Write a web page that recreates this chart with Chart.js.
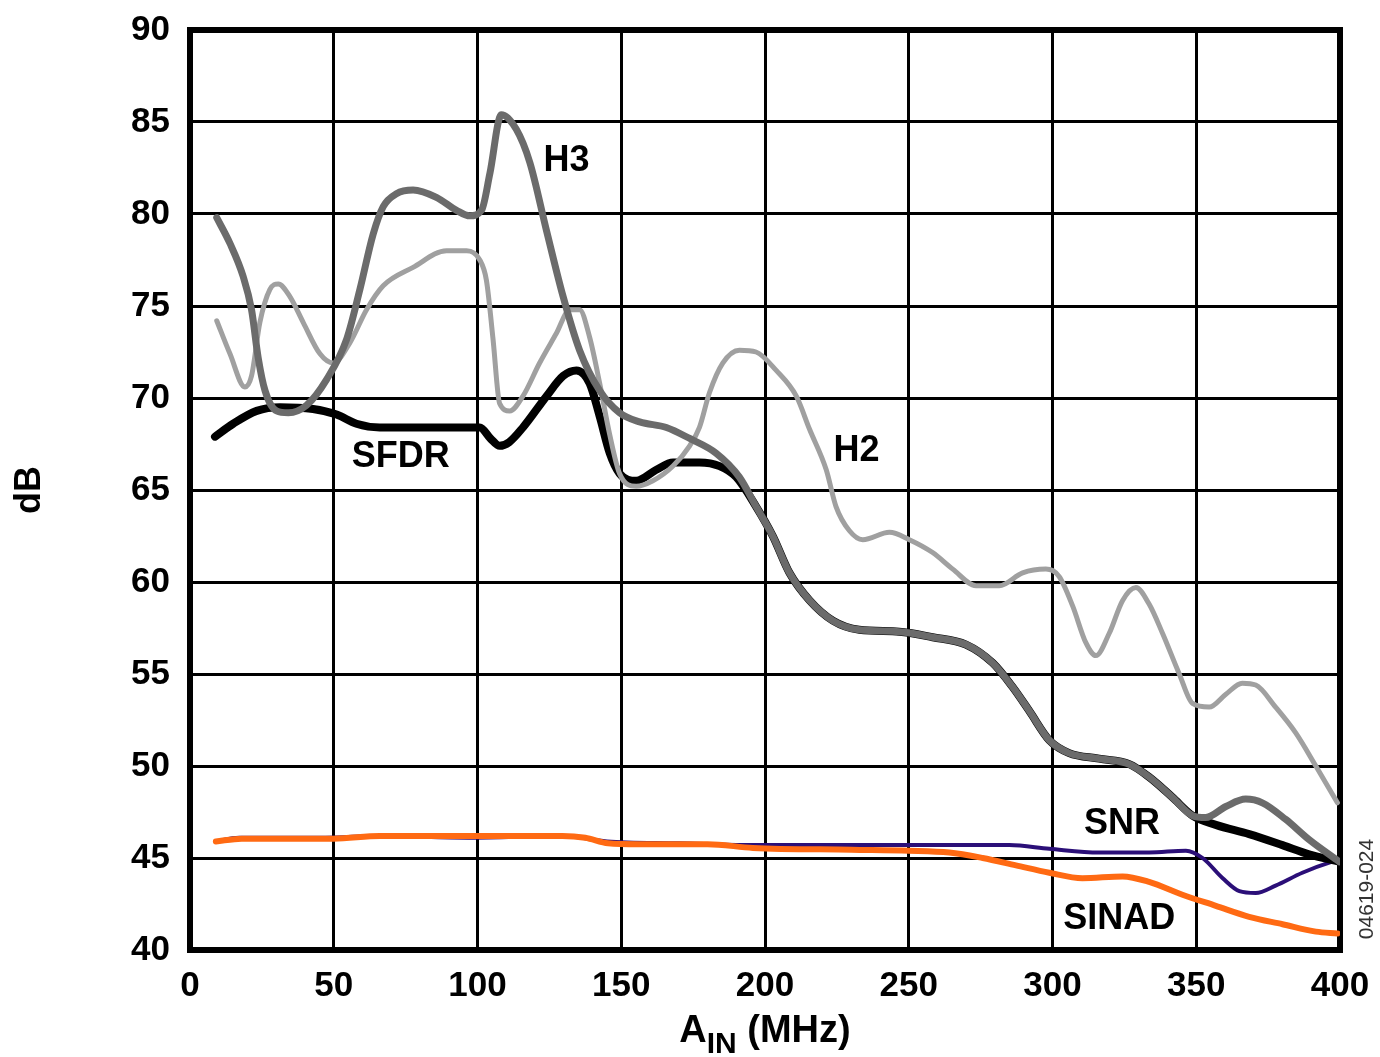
<!DOCTYPE html>
<html>
<head>
<meta charset="utf-8">
<script src="https://cdn.jsdelivr.net/npm/chart.js@4.4.1/dist/chart.umd.min.js"></script>
<style>
  html, body { margin: 0; padding: 0; background: #fff; }
  #wrap { width: 1380px; height: 1057px; position: relative; }
</style>
</head>
<body>
<div id="wrap"><canvas id="c" width="1380" height="1057"></canvas></div>
<script>
// ---- Data (A_IN in MHz, values in dB) ----
const xTicks = [0, 50, 100, 150, 200, 250, 300, 350, 400];
const yTicks = [40, 45, 50, 55, 60, 65, 70, 75, 80, 85, 90];

const h3Freq = [9.3, 13.9, 18.5, 21.4, 23.7, 26.1, 30.1, 34.2, 40.5, 47.5, 54.5, 59.1, 63.7, 67.2, 71.8, 77.6, 85.7, 92.7, 97.3, 101.4, 104.3, 108.3, 113.5, 118.2, 124.0, 129.8, 135.5, 142.5, 149.4, 156.4, 165.7, 173.8, 183.0, 191.1, 196.9, 202.7, 208.5, 215.5, 223.6, 232.8, 246.7, 258.3, 269.9, 279.2, 286.1, 291.9, 298.9, 305.8, 316.2, 326.7, 333.6, 341.7, 348.7, 353.3, 360.3, 367.2, 373.0, 381.1, 389.2, 399.7];
const h3dB   = [79.8, 78.4, 76.6, 74.8, 72.2, 70.4, 69.3, 69.2, 69.6, 71.0, 73.2, 75.9, 78.9, 80.4, 81.1, 81.3, 80.9, 80.2, 79.9, 80.2, 82.2, 85.4, 84.6, 82.8, 79.1, 75.5, 72.6, 70.4, 69.2, 68.7, 68.4, 67.8, 67.0, 65.7, 64.1, 62.5, 60.5, 59.0, 57.9, 57.4, 57.3, 57.0, 56.6, 55.6, 54.3, 53.0, 51.4, 50.7, 50.4, 50.1, 49.4, 48.3, 47.3, 47.2, 47.8, 48.2, 48.0, 47.1, 46.0, 44.8];

const h2Freq = [9.3, 13.9, 19.1, 21.4, 24.3, 27.8, 30.7, 34.8, 39.4, 45.2, 49.8, 55.6, 61.4, 67.2, 77.6, 89.2, 96.2, 100.8, 103.1, 105.4, 107.7, 111.2, 115.8, 121.6, 127.4, 132.1, 135.5, 139.0, 142.5, 146.0, 149.4, 155.2, 161.0, 168.0, 173.8, 177.2, 180.7, 185.3, 191.1, 196.9, 203.9, 210.9, 215.5, 221.3, 224.7, 229.3, 234.0, 243.3, 250.2, 258.3, 265.3, 273.4, 281.5, 289.6, 297.7, 302.3, 307.0, 311.6, 315.1, 319.7, 324.4, 329.0, 333.6, 338.3, 344.1, 348.7, 354.5, 360.3, 366.0, 370.7, 377.6, 384.6, 391.6, 399.1];
const h2dB   = [74.2, 72.4, 70.6, 71.2, 74.1, 75.9, 76.2, 75.5, 74.1, 72.4, 71.9, 73.0, 74.8, 76.1, 77.1, 78.0, 78.0, 77.5, 76.4, 73.2, 69.7, 69.3, 70.1, 71.9, 73.5, 74.8, 74.8, 73.3, 70.8, 68.0, 65.9, 65.2, 65.5, 66.3, 67.4, 68.4, 70.3, 71.9, 72.6, 72.5, 71.5, 70.1, 68.3, 66.1, 64.1, 62.8, 62.3, 62.7, 62.3, 61.6, 60.7, 59.8, 59.8, 60.5, 60.7, 60.3, 58.7, 56.7, 56.0, 57.2, 59.0, 59.7, 58.8, 57.2, 55.0, 53.4, 53.2, 53.9, 54.5, 54.4, 53.2, 51.8, 50.0, 48.0];

const sfdrFreq = [8.7, 15.0, 23.2, 31.3, 42.8, 51.0, 57.9, 66.0, 77.6, 89.2, 100.8, 104.5, 107.7, 111.0, 115.8, 124.0, 129.8, 134.4, 139.0, 142.5, 146.0, 149.4, 155.2, 162.2, 168.0, 177.2, 184.2, 190.0, 196.9, 202.7, 208.5, 215.5, 223.6, 232.8, 246.7, 258.3, 269.9, 279.2, 286.1, 291.9, 298.9, 305.8, 316.2, 326.7, 333.6, 341.7, 348.7, 356.8, 368.4, 380.0, 389.2, 399.7];
const sfdrdB   = [67.9, 68.6, 69.3, 69.5, 69.4, 69.1, 68.6, 68.4, 68.4, 68.4, 68.4, 67.8, 67.4, 67.6, 68.4, 70.1, 71.2, 71.5, 70.8, 69.0, 67.0, 65.9, 65.5, 66.1, 66.5, 66.5, 66.3, 65.7, 64.1, 62.5, 60.5, 59.0, 57.9, 57.4, 57.3, 57.0, 56.6, 55.6, 54.3, 53.0, 51.4, 50.7, 50.4, 50.1, 49.4, 48.3, 47.3, 46.8, 46.3, 45.7, 45.2, 44.8];

const snrFreq = [9, 17, 47, 66, 97, 130, 145, 170, 195, 230, 264, 285, 298.9, 316.2, 333.6, 346.4, 352.2, 359.2, 365.0, 370.7, 377.6, 386.9, 397.3, 399.7];
const snrdB   = [45.9, 46.1, 46.1, 46.2, 46.1, 46.2, 45.9, 45.8, 45.7, 45.7, 45.7, 45.7, 45.5, 45.3, 45.3, 45.4, 45.0, 43.9, 43.2, 43.1, 43.5, 44.2, 44.8, 44.9];

const sinadFreq = [9.0, 18, 50, 66, 100, 129.5, 137.5, 145.4, 156, 180, 195.8, 230, 250, 264.1, 275.7, 287.3, 298.9, 310.4, 324.4, 333.6, 345.2, 356.8, 368.4, 380.0, 391.6, 399.1];
const sinaddB   = [45.9, 46.05, 46.05, 46.2, 46.2, 46.2, 46.1, 45.8, 45.75, 45.75, 45.55, 45.45, 45.4, 45.3, 45.0, 44.6, 44.2, 43.9, 44.0, 43.7, 43.0, 42.4, 41.8, 41.4, 41.0, 40.9];

// Curve label texts and their anchor points (data coordinates)
const curveLabels = ['H3', 'SFDR', 'H2', 'SNR', 'SINAD'];
const labelFreq   = [131, 73.3, 231.8, 324.2, 323.2];
const labeldB     = [82.9, 66.8, 67.1, 46.85, 41.7];

const yTitle = 'dB';
const xTitleMain = 'A';
const xTitleSub = 'IN';
const xTitleRest = ' (MHz)';
const figCode = '04619-024';

const pts = (xs, ys) => xs.map((x, i) => ({ x: x, y: ys[i] }));

const FONT = '"Liberation Sans", Arial, sans-serif';

const decor = {
  id: 'decor',
  beforeDatasetsDraw(chart) {
    const { ctx, chartArea: a } = chart;
    ctx.save();
    ctx.strokeStyle = '#000';
    ctx.lineWidth = 6;
    ctx.strokeRect(a.left, a.top, a.right - a.left, a.bottom - a.top);
    ctx.restore();
  },
  afterDraw(chart) {
    const { ctx, chartArea: a, scales } = chart;
    ctx.save();
    ctx.fillStyle = '#000';
    // curve labels
    ctx.font = 'bold 36px ' + FONT;
    ctx.textAlign = 'center';
    ctx.textBaseline = 'middle';
    curveLabels.forEach((t, i) => {
      ctx.fillText(t, scales.x.getPixelForValue(labelFreq[i]), scales.y.getPixelForValue(labeldB[i]));
    });
    // y title
    ctx.save();
    ctx.translate(30, (a.top + a.bottom) / 2);
    ctx.rotate(-Math.PI / 2);
    ctx.font = 'bold 36px ' + FONT;
    ctx.textAlign = 'center';
    ctx.textBaseline = 'middle';
    ctx.fillText(yTitle, 0, 0);
    ctx.restore();
    // x title with subscript
    const mainF = 'bold 38px ' + FONT, subF = 'bold 30px ' + FONT;
    ctx.font = mainF; const wA = ctx.measureText(xTitleMain).width; const wR = ctx.measureText(xTitleRest).width;
    ctx.font = subF; const wS = ctx.measureText(xTitleSub).width;
    const total = wA + wS + wR;
    let x0 = (a.left + a.right) / 2 - total / 2;
    const base = 1042;
    ctx.textAlign = 'left';
    ctx.textBaseline = 'alphabetic';
    ctx.font = mainF; ctx.fillText(xTitleMain, x0, base);
    ctx.font = subF; ctx.fillText(xTitleSub, x0 + wA, base + 11);
    ctx.font = mainF; ctx.fillText(xTitleRest, x0 + wA + wS, base);
    // figure code
    ctx.save();
    ctx.translate(1367, 889);
    ctx.rotate(-Math.PI / 2);
    ctx.font = '21px ' + FONT;
    ctx.fillStyle = '#333';
    ctx.textAlign = 'center';
    ctx.textBaseline = 'middle';
    ctx.fillText(figCode, 0, 0);
    ctx.restore();
    ctx.restore();
  }
};

const common = { fill: false, pointRadius: 0, cubicInterpolationMode: 'monotone', borderCapStyle: 'round', borderJoinStyle: 'round' };

new Chart(document.getElementById('c'), {
  type: 'line',
  data: {
    datasets: [
      Object.assign({ label: 'SINAD', data: pts(sinadFreq, sinaddB), borderColor: '#ff6a13', borderWidth: 6 }, common),
      Object.assign({ label: 'H3', data: pts(h3Freq, h3dB), borderColor: '#6b6b6b', borderWidth: 7 }, common),
      Object.assign({ label: 'H2', data: pts(h2Freq, h2dB), borderColor: '#a0a0a0', borderWidth: 5 }, common),
      Object.assign({ label: 'SFDR', data: pts(sfdrFreq, sfdrdB), borderColor: '#000000', borderWidth: 8 }, common),
      Object.assign({ label: 'SNR', data: pts(snrFreq, snrdB), borderColor: '#2b0f78', borderWidth: 4 }, common)
    ]
  },
  options: {
    responsive: false,
    animation: false,
    events: [],
    layout: { padding: 0 },
    plugins: { legend: { display: false }, tooltip: { enabled: false }, title: { display: false } },
    scales: {
      x: {
        type: 'linear', min: 0, max: 400,
        afterBuildTicks: s => { s.ticks = xTicks.map(v => ({ value: v })); },
        afterFit: s => { s.height = 107; s.paddingLeft = 0; s.paddingRight = 40; },
        grid: { color: '#000', lineWidth: 3, drawTicks: false },
        border: { display: false },
        ticks: { color: '#000', font: { family: FONT, size: 35, weight: 'bold' }, padding: 15, maxRotation: 0 }
      },
      y: {
        type: 'linear', min: 40, max: 90,
        afterBuildTicks: s => { s.ticks = yTicks.map(v => ({ value: v })); },
        afterFit: s => { s.width = 190; s.paddingTop = 30; s.paddingBottom = 0; },
        grid: { color: '#000', lineWidth: 3, drawTicks: false },
        border: { display: false },
        ticks: { color: '#000', font: { family: FONT, size: 35, weight: 'bold' }, padding: 20 }
      }
    }
  },
  plugins: [decor]
});
</script>
</body>
</html>
